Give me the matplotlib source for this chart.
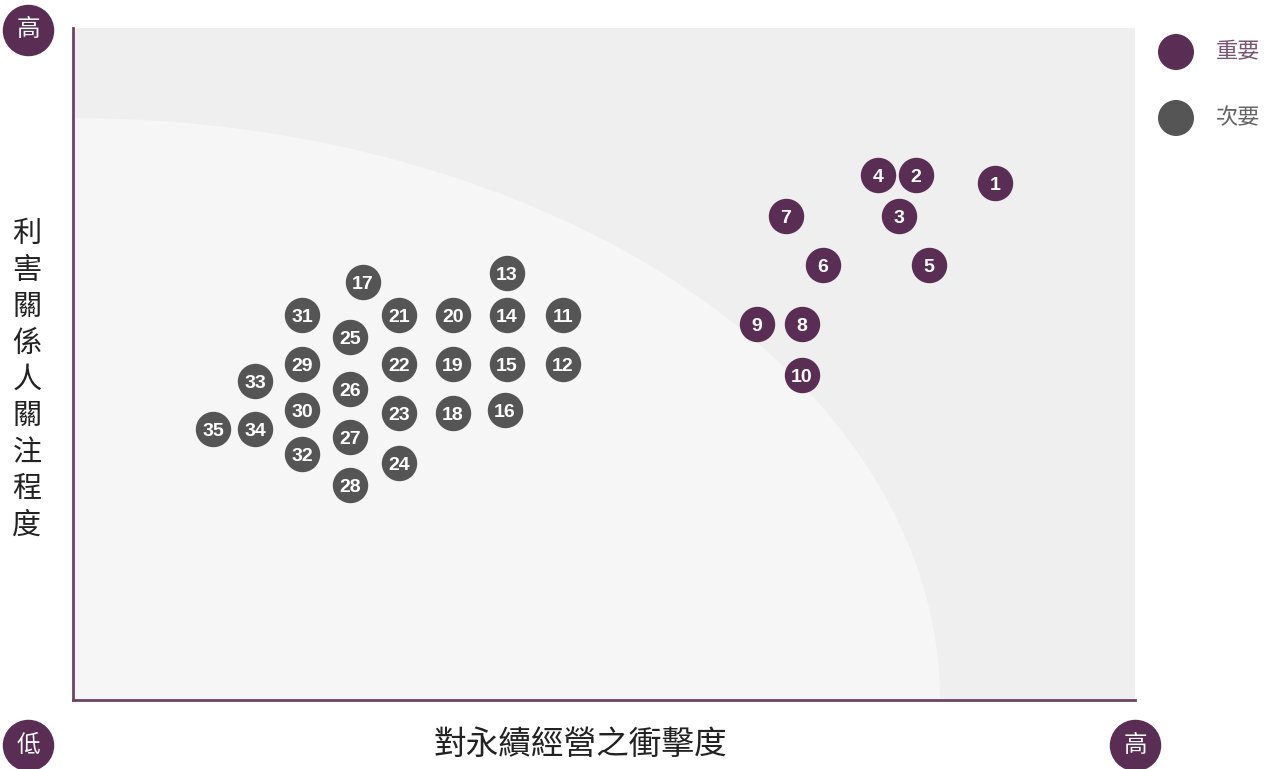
import matplotlib.pyplot as plt
from matplotlib.patches import Ellipse

plt.rcParams['font.family'] = ['Noto Sans CJK TC', 'DejaVu Sans']

PURPLE = '#5a2d55'
GRAY = '#555555'

# importance (x) and concern (y), scale = plot units
major_ids = [1, 2, 3, 4, 5, 6, 7, 8, 9, 10]
major_x = [922, 843, 826, 805, 856, 750, 713, 729, 684, 729]
major_y = [517, 525, 484, 525, 435, 435, 484, 376, 376, 325]

minor_ids = list(range(11, 36))
minor_x = [490, 490, 434, 434, 434, 432, 290, 380, 380, 380, 326, 326, 326,
           326, 277, 277, 277, 277, 229, 229, 229, 229, 182, 182, 140]
minor_y = [385, 336, 427, 385, 336, 290, 418, 287, 336, 385, 385, 336, 287,
           237, 363, 311, 263, 215, 336, 290, 385, 246, 319, 271, 271]

x_max, y_max = 1062, 672
x_label = '對永續經營之衝擊度'
y_label = '利害關係人關注程度'
legend_labels = ['重要', '次要']

fig = plt.figure(figsize=(12.76, 7.69), dpi=100)
ax = fig.add_axes([73 / 1276, 69 / 769, 1062 / 1276, 672 / 769])
ax.set_xlim(0, x_max)
ax.set_ylim(0, y_max)
ax.set_facecolor('#efefef')

# lighter low-priority zone
ax.add_patch(Ellipse((0, 0), 2 * 867, 2 * 582, facecolor='#f5f6f5',
                     edgecolor='none', zorder=0))

for s in ['top', 'right']:
    ax.spines[s].set_visible(False)
for s in ['left', 'bottom']:
    ax.spines[s].set_color('#6b4466')
    ax.spines[s].set_linewidth(2)
ax.set_xticks([])
ax.set_yticks([])

ax.scatter(major_x, major_y, s=600, color=PURPLE, zorder=3)
ax.scatter(minor_x, minor_y, s=600, color=GRAY, zorder=3)
for i, x, y in zip(major_ids + minor_ids, major_x + minor_x, major_y + minor_y):
    ax.annotate(str(i), (x, y), xytext=(0, -1.5), textcoords='offset points',
                color='white', fontsize=14, fontweight='bold',
                family='Liberation Sans', ha='center', va='center', zorder=4)

# corner markers
corners = [(-45, 670, '高'), (-45, -45, '低'), (1062, -45, '高')]
for cx, cy, t in corners:
    ax.scatter([cx], [cy], s=1300, color=PURPLE, clip_on=False, zorder=5)
    ax.text(cx, cy, t, color='white', fontsize=17, ha='center', va='center',
            zorder=6)

# legend
ax.scatter([1103, 1103], [648, 582], s=620, color=[PURPLE, GRAY],
           clip_on=False, zorder=5)
ax.text(1143, 648, legend_labels[0], color='#7a5573', fontsize=16,
        va='center', ha='left')
ax.text(1143, 582, legend_labels[1], color='#666666', fontsize=16,
        va='center', ha='left')

fig.text(580 / 1276, 1 - 745 / 769, x_label, fontsize=23.5, ha='center',
         va='center', color='#222222')
fig.text(27 / 1276, 1 - 380 / 769, '\n'.join(y_label), fontsize=21,
         ha='center', va='center', linespacing=1.28, color='#222222')

fig.savefig('out.png', dpi=100)
